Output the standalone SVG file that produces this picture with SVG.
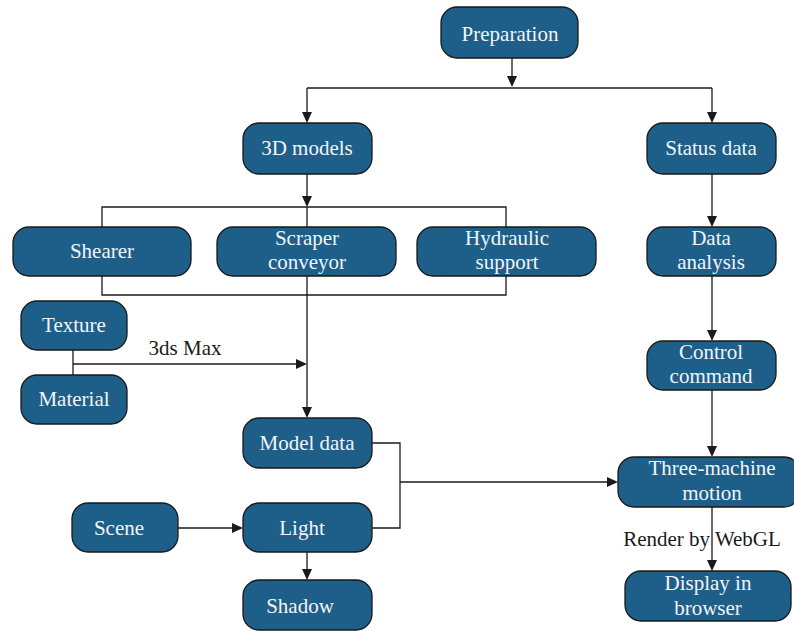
<svg xmlns="http://www.w3.org/2000/svg" width="794" height="631" viewBox="0 0 794 631">
<defs>
<style>
.n rect{fill:#1e5f8a;stroke:#1a1a1a;stroke-width:1.3}
.n text{fill:#f2f4f7;text-anchor:middle}
.c path{fill:none;stroke:#1a1a1a;stroke-width:1.3}
.c path.h{fill:#1a1a1a;stroke:none}
.lbl{fill:#1a1a1a;text-anchor:middle}
</style>
</defs>
<rect width="794" height="631" fill="#ffffff"/>
<g id="connectors" class="c">
<path d="M512,58 V80"/><path class="h" d="M507,76 L517,76 L512,87 Z"/>
<path d="M307,88 H712"/>
<path d="M307,88 V115"/><path class="h" d="M302,112 L312,112 L307,123 Z"/>
<path d="M712,88 V115"/><path class="h" d="M707,112 L717,112 L712,123 Z"/>
<path d="M307,174 V200"/><path class="h" d="M302,196 L312,196 L307,207 Z"/>
<path d="M102,227 V207 H506 V227"/>
<path d="M307,207 V227"/>
<path d="M102,276 V295 H506 V276"/>
<path d="M307,276 V410"/><path class="h" d="M302,407 L312,407 L307,418 Z"/>
<path d="M73,350 V375"/>
<path d="M73,364 H300"/><path class="h" d="M296,359 L296,369 L307,364 Z"/>
<path d="M712,174 V220"/><path class="h" d="M707,216 L717,216 L712,227 Z"/>
<path d="M712,276 V334"/><path class="h" d="M707,330 L717,330 L712,341 Z"/>
<path d="M712,390 V450"/><path class="h" d="M707,446 L717,446 L712,457 Z"/>
<path d="M712,507 V564"/><path class="h" d="M707,560 L717,560 L712,571 Z"/>
<path d="M372,443 H400 V528 H372"/>
<path d="M400,482 H611"/><path class="h" d="M607,477 L607,487 L618,482 Z"/>
<path d="M178,528 H236"/><path class="h" d="M232,523 L232,533 L243,528 Z"/>
<path d="M307,552 V573"/><path class="h" d="M302,569 L312,569 L307,580 Z"/>
</g>
<text class="lbl" x="185" y="355" font-family="Liberation Serif" font-size="21">3ds Max</text>
<text class="lbl" x="702" y="546" font-family="Liberation Serif" font-size="21">Render by WebGL</text>
<g id="preparation" class="n"><rect x="441" y="7" width="137" height="51" rx="16"/><text x="510" y="41" font-family="Liberation Serif" font-size="21">Preparation</text></g>
<g id="models3d" class="n"><rect x="243" y="123" width="129" height="51" rx="16"/><text x="307" y="155" font-family="Liberation Serif" font-size="21">3D models</text></g>
<g id="statusdata" class="n"><rect x="647" y="123" width="129" height="51" rx="16"/><text x="711" y="155" font-family="Liberation Serif" font-size="21">Status data</text></g>
<g id="shearer" class="n"><rect x="13" y="227" width="178" height="49" rx="16"/><text x="102" y="258" font-family="Liberation Serif" font-size="21">Shearer</text></g>
<g id="scraper" class="n"><rect x="217" y="227" width="179" height="49" rx="16"/><text x="307" y="245" font-family="Liberation Serif" font-size="21">Scraper</text><text x="307" y="269" font-family="Liberation Serif" font-size="21">conveyor</text></g>
<g id="hydraulic" class="n"><rect x="417" y="227" width="179" height="49" rx="16"/><text x="507" y="245" font-family="Liberation Serif" font-size="21">Hydraulic</text><text x="507" y="269" font-family="Liberation Serif" font-size="21">support</text></g>
<g id="dataanalysis" class="n"><rect x="647" y="227" width="129" height="49" rx="16"/><text x="711" y="245" font-family="Liberation Serif" font-size="21">Data</text><text x="711" y="269" font-family="Liberation Serif" font-size="21">analysis</text></g>
<g id="texture" class="n"><rect x="21" y="301" width="106" height="49" rx="16"/><text x="74" y="332" font-family="Liberation Serif" font-size="21">Texture</text></g>
<g id="material" class="n"><rect x="21" y="375" width="106" height="49" rx="16"/><text x="74" y="406" font-family="Liberation Serif" font-size="21">Material</text></g>
<g id="controlcommand" class="n"><rect x="647" y="341" width="129" height="49" rx="16"/><text x="711" y="359" font-family="Liberation Serif" font-size="21">Control</text><text x="711" y="383" font-family="Liberation Serif" font-size="21">command</text></g>
<g id="modeldata" class="n"><rect x="243" y="418" width="129" height="50" rx="16"/><text x="307" y="450" font-family="Liberation Serif" font-size="21">Model data</text></g>
<g id="threemachine" class="n"><rect x="618" y="457" width="182" height="50" rx="16"/><text x="712" y="475" font-family="Liberation Serif" font-size="21">Three-machine</text><text x="712" y="500" font-family="Liberation Serif" font-size="21">motion</text></g>
<g id="scene" class="n"><rect x="72" y="503" width="106" height="49" rx="16"/><text x="119" y="535" font-family="Liberation Serif" font-size="21">Scene</text></g>
<g id="light" class="n"><rect x="243" y="503" width="129" height="49" rx="16"/><text x="302" y="535" font-family="Liberation Serif" font-size="21">Light</text></g>
<g id="shadow" class="n"><rect x="243" y="580" width="129" height="50" rx="16"/><text x="300" y="613" font-family="Liberation Serif" font-size="21">Shadow</text></g>
<g id="display" class="n"><rect x="625" y="571" width="166" height="50" rx="16"/><text x="708" y="590" font-family="Liberation Serif" font-size="21">Display in</text><text x="708" y="615" font-family="Liberation Serif" font-size="21">browser</text></g>
</svg>
